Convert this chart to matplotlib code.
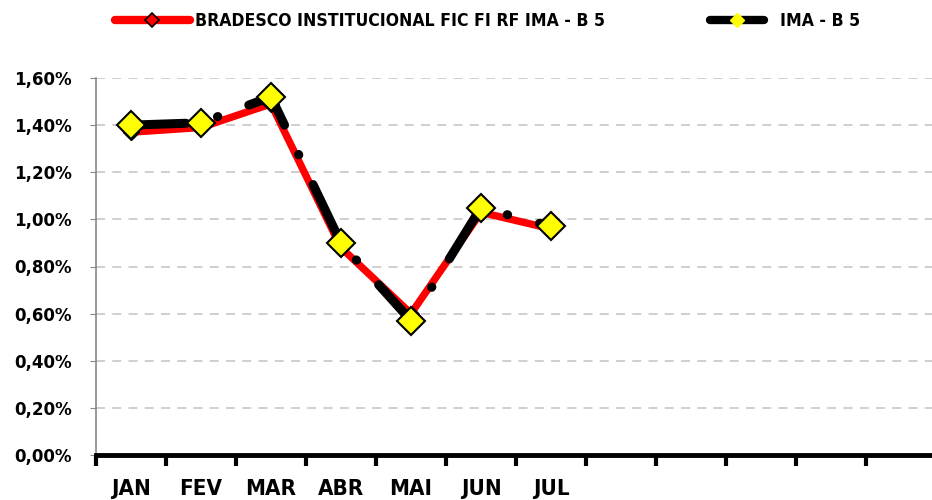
import matplotlib.pyplot as plt
from matplotlib.lines import Line2D

months = ['JAN', 'FEV', 'MAR', 'ABR', 'MAI', 'JUN', 'JUL']
n_slots = 12    # chart leaves room for the whole year

fund = [1.37, 1.39, 1.49, 0.88, 0.60, 1.03, 0.96]       # BRADESCO INSTITUCIONAL FIC FI RF IMA - B 5 (%)
bench = [1.40, 1.41, 1.52, 0.90, 0.57, 1.05, 0.97]      # IMA - B 5 (%)

yticks = [0.0, 0.2, 0.4, 0.6, 0.8, 1.0, 1.2, 1.4, 1.6]

plt.rcParams['font.family'] = ['DejaVu Sans']
plt.rcParams['font.stretch'] = 'condensed'
plt.rcParams['font.weight'] = 'bold'

fig = plt.figure(figsize=(9.32, 5.0), dpi=100)
ax = fig.add_axes([96/932, 45/500, 840/932, 377/500])

x = list(range(len(months)))

ax.plot(x, fund, color='#ff0000', lw=5.3, solid_joinstyle='round', zorder=3,
        marker='D', ms=8, mfc='#c00000', mec='black', mew=1)
# long dash - dot, like the excel style
ax.plot(x, bench, color='black', lw=6.5, dashes=(6.1, 3.6, 0.05, 3.65),
        dash_capstyle='round', zorder=4)
ax.plot(x, bench, ls='none', marker='D', ms=14, mfc='#ffff00', mec='black',
        mew=1.5, zorder=5)

ax.set_xlim(-0.5, n_slots - 0.5)
ax.set_ylim(0, 1.6)

ax.set_yticks(yticks)
ax.set_yticklabels([('%.2f%%' % v).replace('.', ',') for v in yticks],
                   fontweight='bold', fontsize=13.3)
ax.yaxis.set_tick_params(length=4.5, color='#888888', pad=13)

for v in yticks[1:]:
    ax.axhline(v, color='#cccccc', lw=1.3, dashes=(5, 4), zorder=1)

# category ticks on the boundaries, labels in the middle
ax.set_xticks([i - 0.5 for i in range(n_slots + 1)])
ax.set_xticklabels([])
ax.set_xticks(x, minor=True)
ax.set_xticklabels(months, minor=True, fontweight='bold', fontsize=16)
ax.tick_params(axis='x', which='major', length=8, width=3, color='black', direction='out')
ax.tick_params(axis='x', which='minor', length=0, pad=17)

ax.spines['top'].set_visible(False)
ax.spines['right'].set_visible(False)
ax.spines['left'].set_color('#888888')
ax.spines['left'].set_linewidth(1.2)
ax.spines['bottom'].set_linewidth(3.5)
ax.spines['bottom'].set_zorder(6)

h1 = Line2D([], [], color='#ff0000', lw=6, solid_capstyle='round',
            marker='D', ms=7, mfc='#ff0000', mec='black', mew=1.2)
h2 = Line2D([], [], color='black', lw=6, solid_capstyle='round',
            marker='D', ms=7, mfc='#ffff00', mec='#ffff00', mew=1)
fig.legend([h1], ['BRADESCO INSTITUCIONAL FIC FI RF IMA - B 5'],
           loc='center left', bbox_to_anchor=(99/932, 1 - 21/500),
           frameon=False, handlelength=4.3, handletextpad=0.3,
           prop={'weight': 'bold', 'size': 12.6})
fig.legend([h2], ['IMA - B 5'],
           loc='center left', bbox_to_anchor=(694/932, 1 - 21/500),
           frameon=False, handlelength=3.1, handletextpad=0.9,
           prop={'weight': 'bold', 'size': 12.6})

fig.savefig('out.png', dpi=100)
